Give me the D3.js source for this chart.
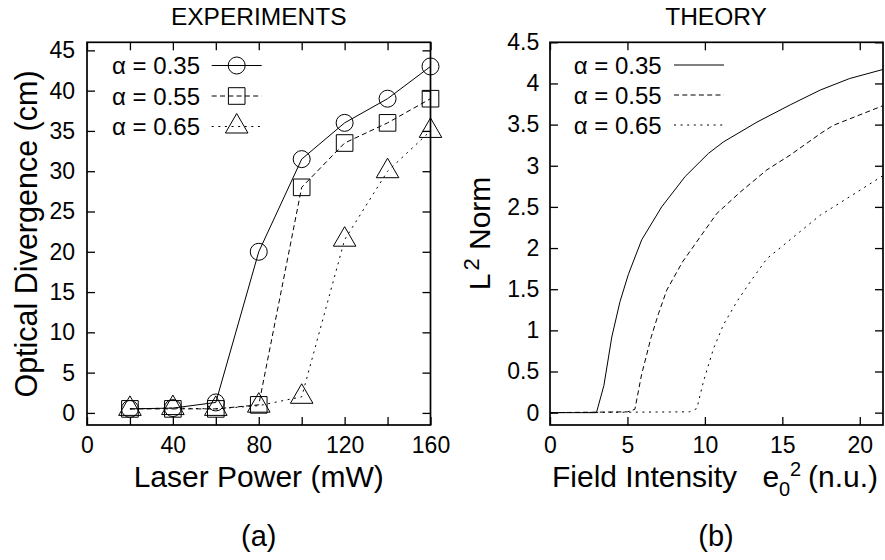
<!DOCTYPE html>
<html>
<head>
<meta charset="utf-8">
<script src="https://cdn.jsdelivr.net/npm/d3@7"></script>
<style>
  html, body { margin: 0; padding: 0; background: #fff; }
  svg { display: block; }
</style>
</head>
<body>
<svg id="fig" width="885" height="560"></svg>
<script>
// ---- Experiments: optical divergence (cm) versus laser power (mW) ----
const laserPower     = [20, 40, 60, 80, 100, 120, 140, 160];
const divergenceA035 = [0.5, 0.6, 1.3, 20, 31.5, 36, 39, 43];
const divergenceA055 = [0.5, 0.5, 0.5, 1.0, 28, 33.5, 36, 39];
const divergenceA065 = [0.5, 0.6, 0.5, 0.9, 2.0, 21.5, 30, 35];

// ---- Theory: L2 norm versus field intensity e0^2 (n.u.) ----
const intensityA035 = [0, 3.0, 3.48, 3.99, 4.52, 5.06, 5.92, 7.21, 8.73, 10.23, 11.2, 13.36, 15.51, 17.45, 19.35, 21.5];
const normA035      = [0, 0, 0.33, 0.92, 1.35, 1.68, 2.10, 2.50, 2.87, 3.15, 3.29, 3.53, 3.74, 3.92, 4.06, 4.17];
const intensityA055 = [0, 5.0, 5.48, 5.91, 6.52, 7.0, 7.54, 8.55, 9.75, 10.77, 12.28, 14.0, 15.51, 17.45, 18.28, 21.5];
const normA055      = [0, 0.01, 0.04, 0.46, 0.91, 1.20, 1.49, 1.83, 2.15, 2.42, 2.68, 2.95, 3.13, 3.39, 3.49, 3.73];
const intensityA065 = [0, 9.0, 9.48, 9.91, 10.56, 11.2, 12.07, 12.93, 14.0, 17.45, 18.31, 21.5];
const normA065      = [0, 0.01, 0.05, 0.38, 0.78, 1.07, 1.35, 1.59, 1.87, 2.40, 2.50, 2.88];

const seriesLabels = ["\u03b1 = 0.35", "\u03b1 = 0.55", "\u03b1 = 0.65"];

// tick values
const expXTicks = [0, 20, 40, 60, 80, 100, 120, 140, 160];
const expXLabelStep = 40;
const expYTicks = [0, 5, 10, 15, 20, 25, 30, 35, 40, 45];
const thXTicks  = [0, 5, 10, 15, 20];
const thYTicks  = [0, 0.5, 1, 1.5, 2, 2.5, 3, 3.5, 4, 4.5];

// ---- drawing ----
const FONT = '"Liberation Sans", Arial, Helvetica, sans-serif';
const dashes = [null, "5,3.3", "2,4.6"];
const markerTypes = [d3.symbolCircle, d3.symbolSquare, d3.symbolTriangle];
const markerSizes = [227, 276, 220];

const svg = d3.select("#fig");
svg.append("rect").attr("width", 885).attr("height", 560).attr("fill", "#fff");

const xExp = d3.scaleLinear().domain([0, 160]).range([87, 430.5]);
const yExp = d3.scaleLinear().domain([-1.5, 46]).range([425, 42.3]);
const xTh  = d3.scaleLinear().domain([0, 21.5]).range([550, 883]);
const yTh  = d3.scaleLinear().domain([-0.15, 4.5]).range([425, 42.3]);

function drawAxes(xs, ys, xTicks, yTicks, xFmt, yFmt, yPad) {
  const [xl, xr] = xs.range();
  const [yb, yt] = ys.range();
  const g = svg.append("g");

  const style = sel => {
    sel.attr("font-family", FONT).attr("font-size", 23);
    sel.select(".domain").remove();
    sel.selectAll(".tick line").attr("stroke", "#000").attr("stroke-width", 1.3);
    sel.selectAll(".tick text").attr("fill", "#000");
  };

  g.append("g").attr("transform", `translate(0,${yb})`)
    .call(d3.axisBottom(xs).tickValues(xTicks).tickFormat(xFmt)
      .tickSizeInner(-8).tickSizeOuter(0).tickPadding(11.4))
    .call(style);
  g.append("g").attr("transform", `translate(0,${yt})`)
    .call(d3.axisTop(xs).tickValues(xTicks).tickFormat("")
      .tickSizeInner(-8).tickSizeOuter(0))
    .call(style);
  g.append("g").attr("transform", `translate(${xl},0)`)
    .call(d3.axisLeft(ys).tickValues(yTicks).tickFormat(yFmt)
      .tickSizeInner(-8).tickSizeOuter(0).tickPadding(yPad))
    .call(style);
  g.append("g").attr("transform", `translate(${xr},0)`)
    .call(d3.axisRight(ys).tickValues(yTicks).tickFormat("")
      .tickSizeInner(-8).tickSizeOuter(0))
    .call(style);

  g.append("rect")
    .attr("x", xl).attr("y", yt)
    .attr("width", xr - xl).attr("height", yb - yt)
    .attr("fill", "none").attr("stroke", "#000").attr("stroke-width", 1.7);
}

drawAxes(xExp, yExp, expXTicks, expYTicks,
  d => (d % expXLabelStep === 0 ? d : ""), d => d, 12);
drawAxes(xTh, yTh, thXTicks, thYTicks, d => d, d => d, 10.7);

// experimental series: polylines with open markers
const expSeries = [divergenceA035, divergenceA055, divergenceA065];
const expLine = d3.line().x(d => xExp(d[0])).y(d => yExp(d[1]));
const gExp = svg.append("g");
expSeries.forEach((vals, i) => {
  const pts = laserPower.map((p, k) => [p, vals[k]]);
  gExp.append("path")
    .attr("d", expLine(pts))
    .attr("fill", "none").attr("stroke", "#000").attr("stroke-width", 1)
    .attr("stroke-dasharray", dashes[i]);
  gExp.selectAll(null).data(pts).enter().append("path")
    .attr("transform", d => `translate(${xExp(d[0])},${yExp(d[1])})`)
    .attr("d", d3.symbol().type(markerTypes[i]).size(markerSizes[i]))
    .attr("fill", "none").attr("stroke", "#000").attr("stroke-width", 1);
});

// theoretical curves
const thX = [intensityA035, intensityA055, intensityA065];
const thY = [normA035, normA055, normA065];
const thLine = d3.line().x(d => xTh(d[0])).y(d => yTh(d[1]));
const gTh = svg.append("g");
thX.forEach((xs, i) => {
  const pts = xs.map((v, k) => [v, thY[i][k]]);
  gTh.append("path")
    .attr("d", thLine(pts))
    .attr("fill", "none").attr("stroke", "#000").attr("stroke-width", 1)
    .attr("stroke-linejoin", "round")
    .attr("stroke-dasharray", dashes[i]);
});

// legends
function legend(textRight, lineX0, lineX1, rowY0, rowStep, withMarkers) {
  const g = svg.append("g").attr("font-family", FONT).attr("font-size", 24);
  seriesLabels.forEach((lab, i) => {
    const y = rowY0 + i * rowStep;
    g.append("text").attr("x", textRight).attr("y", y + 8.5)
      .attr("text-anchor", "end").attr("fill", "#000").text(lab);
    g.append("line").attr("x1", lineX0).attr("x2", lineX1)
      .attr("y1", y).attr("y2", y)
      .attr("stroke", "#000").attr("stroke-width", 1)
      .attr("stroke-dasharray", dashes[i]);
    if (withMarkers) {
      g.append("path")
        .attr("transform", `translate(${(lineX0 + lineX1) / 2},${y})`)
        .attr("d", d3.symbol().type(markerTypes[i]).size(markerSizes[i]))
        .attr("fill", "none").attr("stroke", "#000").attr("stroke-width", 1);
    }
  });
}
legend(200, 211.7, 261.7, 65.5, 30.5, true);
legend(661.7, 674, 724, 65, 30, false);

// titles, axis labels, panel tags
const txt = svg.append("g").attr("font-family", FONT).attr("fill", "#000");
txt.append("text").attr("x", 258.7).attr("y", 25).attr("text-anchor", "middle")
  .attr("font-size", 24.5).text("EXPERIMENTS");
txt.append("text").attr("x", 716).attr("y", 25).attr("text-anchor", "middle")
  .attr("font-size", 24.5).text("THEORY");

txt.append("text").attr("x", 258.7).attr("y", 486.7).attr("text-anchor", "middle")
  .attr("font-size", 30).text("Laser Power (mW)");
txt.append("text").attr("transform", "translate(36.5,234) rotate(-90)")
  .attr("text-anchor", "middle").attr("font-size", 30.5).text("Optical Divergence (cm)");

const ylab = txt.append("text").attr("transform", "translate(490,233.5) rotate(-90)")
  .attr("text-anchor", "middle").attr("font-size", 30);
ylab.append("tspan").text("L");
ylab.append("tspan").attr("font-size", 22).attr("dx", 3).attr("dy", -11).text("2");
ylab.append("tspan").attr("dy", 11).text(" Norm");

const xlab = txt.append("g").attr("font-size", 30);
xlab.append("text").attr("x", 552).attr("y", 486.7).text("Field Intensity");
xlab.append("text").attr("x", 762.5).attr("y", 486.7).text("e");
xlab.append("text").attr("x", 779).attr("y", 495.5).attr("font-size", 20).text("0");
xlab.append("text").attr("x", 790).attr("y", 475.5).attr("font-size", 20).text("2");
xlab.append("text").attr("x", 808).attr("y", 486.7).text("(n.u.)");

txt.append("text").attr("x", 258.7).attr("y", 546).attr("text-anchor", "middle")
  .attr("font-size", 29).text("(a)");
txt.append("text").attr("x", 716).attr("y", 546).attr("text-anchor", "middle")
  .attr("font-size", 29).text("(b)");
</script>
</body>
</html>
